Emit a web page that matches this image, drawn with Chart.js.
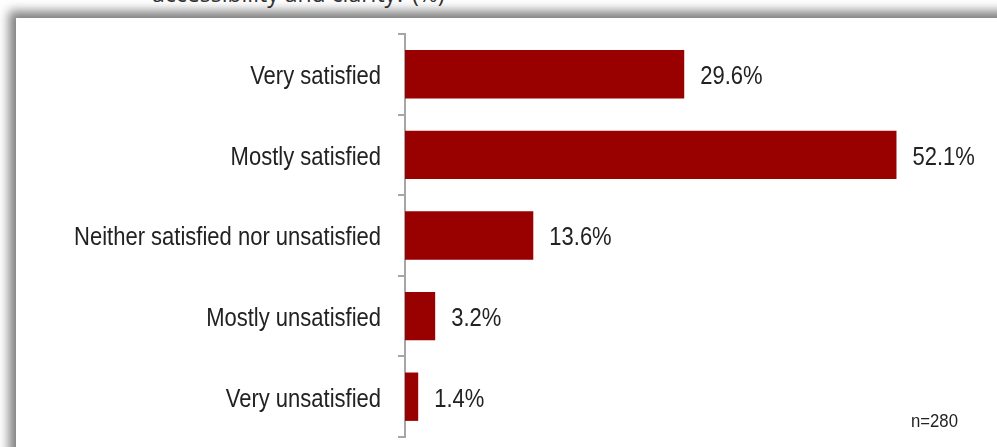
<!DOCTYPE html>
<html>
<head>
<meta charset="utf-8">
<script src="https://cdn.jsdelivr.net/npm/chart.js@4.4.1/dist/chart.umd.min.js"></script>
<style>
  html, body { margin: 0; padding: 0; background: #fff; }
  #wrap { position: relative; width: 997px; height: 447px; overflow: hidden; }
  #titulo {
    position: absolute; left: 152px; top: -23px;
    font: 23px "Open Sans", "DejaVu Sans", sans-serif; color: #333;
    white-space: nowrap;
  }
  #panel {
    position: absolute; left: 16px; top: 18px; width: 1000px; height: 460px;
    background: #fff;
    box-shadow: -7px -7px 10px rgba(0, 0, 0, 0.5);
  }
  #myChart { position: absolute; left: 0; top: 0; }
</style>
</head>
<body>
<div id="wrap">
  <div id="titulo">accessibility and clarity? (%)</div>
  <div id="panel"></div>
  <canvas id="myChart" width="997" height="447"></canvas>
</div>
<script>
const categorias = [
  "Very satisfied",
  "Mostly satisfied",
  "Neither satisfied nor unsatisfied",
  "Mostly unsatisfied",
  "Very unsatisfied"
];
const porcentajes = [29.6, 52.1, 13.6, 3.2, 1.4];
const muestra = "n=280";

// letra angosta: Liberation Sans comprimida en horizontal
const fuente = '"Liberation Sans", Arial, sans-serif';
const angosto = 0.88;

function textoAngosto(c, texto, x, y, align) {
  c.save();
  c.translate(x, y);
  c.scale(angosto, 1);
  c.textAlign = align;
  c.fillText(texto, 0, 0);
  c.restore();
}

// nombres de categoria, valores al final de cada barra y el n de la muestra
const etiquetas = {
  id: "etiquetas",
  afterDatasetsDraw(chart) {
    const c = chart.ctx;
    const meta = chart.getDatasetMeta(0);
    const ejeY = chart.scales.y;
    c.save();
    c.fillStyle = "#222";
    c.textBaseline = "middle";
    c.font = "25px " + fuente;
    categorias.forEach((cat, i) => {
      textoAngosto(c, cat, ejeY.right - 24, ejeY.getPixelForValue(i) + 3, "right");
    });
    meta.data.forEach((bar, i) => {
      textoAngosto(c, porcentajes[i].toFixed(1) + "%", bar.x + 16, bar.y + 3, "left");
    });
    c.font = "19px " + fuente;
    textoAngosto(c, muestra, 911, 422, "left");
    c.restore();
  }
};

var ctx = document.getElementById("myChart");
window.myChart = new Chart(ctx, {
  type: "bar",
  plugins: [etiquetas],
  data: {
    labels: categorias,
    datasets: [
      {
        data: porcentajes,
        backgroundColor: "#990000",
        borderWidth: 0,
        categoryPercentage: 1,
        barPercentage: 0.6,
      },
    ],
  },
  options: {
    indexAxis: "y",
    responsive: false,
    animation: false,
    layout: { padding: { top: 34, bottom: 10, left: 0, right: 26 } },
    plugins: { legend: { display: false }, tooltip: { enabled: false } },
    scales: {
      x: {
        display: false,
        min: 0,
        max: 60,
      },
      y: {
        afterFit: (scale) => { scale.width = 405; },
        grid: {
          offset: true,
          drawOnChartArea: false,
          tickLength: 7,
          color: "#a6a6a6",
          lineWidth: 2,
        },
        border: { color: "#a6a6a6", width: 2 },
        ticks: { display: false },
      },
    },
  },
});
</script>
</body>
</html>
